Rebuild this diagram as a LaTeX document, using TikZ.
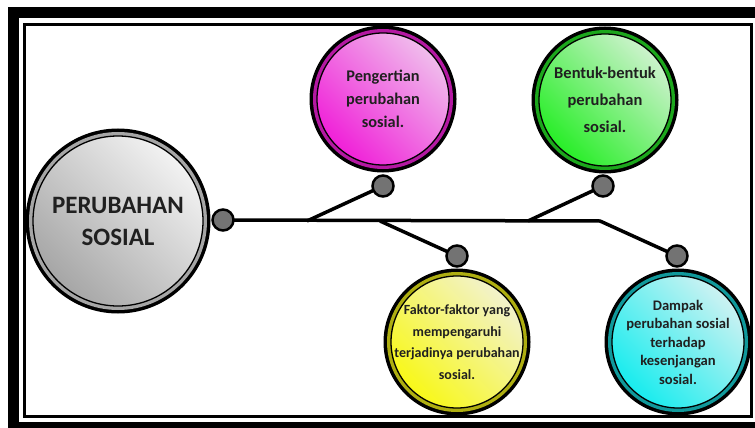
\documentclass[tikz,border=0pt]{standalone}
\usepackage{fontspec}
\setmainfont{Carlito}
\usepackage{tikz}
\usetikzlibrary{calc,backgrounds}

\definecolor{txtgray}{HTML}{202020}
\definecolor{grayhi}{HTML}{F2F2F2}
\definecolor{graylo}{HTML}{A6A6A6}
\definecolor{pinkhi}{HTML}{F0BCEC}
\definecolor{pinklo}{HTML}{F020D8}
\definecolor{greenhi}{HTML}{CCF2CC}
\definecolor{greenlo}{HTML}{28EE28}
\definecolor{yellowhi}{HTML}{F2F2CC}
\definecolor{yellowlo}{HTML}{F8F818}
\definecolor{cyanhi}{HTML}{CCF2F2}
\definecolor{cyanlo}{HTML}{18ECEE}
\tikzset{
	topic/.style n args={4}{circle, inner sep=0pt, minimum size=#1,
		preaction={draw=black, line width=15pt},
		preaction={draw=#4, line width=8pt},
		shading=axis, top color=#2, bottom color=#3, shading angle=-45,
		draw=black, line width=1.3pt},
	lbl/.style={align=center, text=txtgray, font=\bfseries},
	dot/.style={circle, inner sep=0pt, minimum size=21pt, fill=black!55, draw=black, line width=2.5pt},
	spine/.style={line width=3.5pt, line join=round}
}

\begin{document}
\begin{tikzpicture}[x=1pt, y=-1pt]
		\useasboundingbox (0,0) rectangle (755,428);
		\draw[line width=11pt] (13.5,13) rectangle (770,427);
		\draw[line width=3pt] (24.5,24.5) rectangle (751,416);
%
		\node[topic={170pt}{grayhi}{graylo}{black!35}] (main) at (118,221)
			[label={[lbl, font=\bfseries\fontsize{25}{32}\selectfont]center:PERUBAHAN\\SOSIAL}] {};
		\node[topic={132pt}{pinkhi}{pinklo}{pinklo!75!black}] (peng) at (383,99)
			[label={[lbl, font=\bfseries\fontsize{16.3}{23}\selectfont]center:Pengertian\\perubahan\\sosial.}] {};
		\node[topic={132pt}{greenhi}{greenlo}{greenlo!70!black}] (bent) at (605,100)
			[label={[lbl, font=\bfseries\fontsize{16.5}{27}\selectfont]center:Bentuk-bentuk\\perubahan\\sosial.}] {};
		\node[topic={132pt}{yellowhi}{yellowlo}{yellowlo!70!black}] (fakt) at (457,342)
			[label={[lbl, font=\bfseries\fontsize{14}{21.5}\selectfont]center:Faktor-faktor yang\\mempengaruhi\\terjadinya perubahan\\sosial.}] {};
		\node[topic={132pt}{cyanhi}{cyanlo}{cyanlo!65!black}] (damp) at (678,342)
			[label={[lbl, font=\bfseries\fontsize{14.6}{18.5}\selectfont]center:Dampak\\perubahan sosial\\terhadap\\kesenjangan\\sosial.}] {};
%
		\coordinate (j1) at (307,221);
		\coordinate (j2) at (380,221);
		\coordinate (j3) at (528,221);
		\coordinate (j4) at (600,221);
		\node[dot] (d0) at (223,220) {};
		\node[dot] (d1) at (383,186) {};
		\node[dot] (d2) at (457,256) {};
		\node[dot] (d3) at (603,186) {};
		\node[dot] (d4) at (677,256) {};
		\begin{pgfonlayer}{background}
			\draw[spine] (d0.center) -- (j4) -- (d4.center);
			\path[spine, draw]
				(j1) edge (d1.center)
				(j2) edge (d2.center)
				(j3) edge (d3.center);
		\end{pgfonlayer}
	\end{tikzpicture}
\end{document}
